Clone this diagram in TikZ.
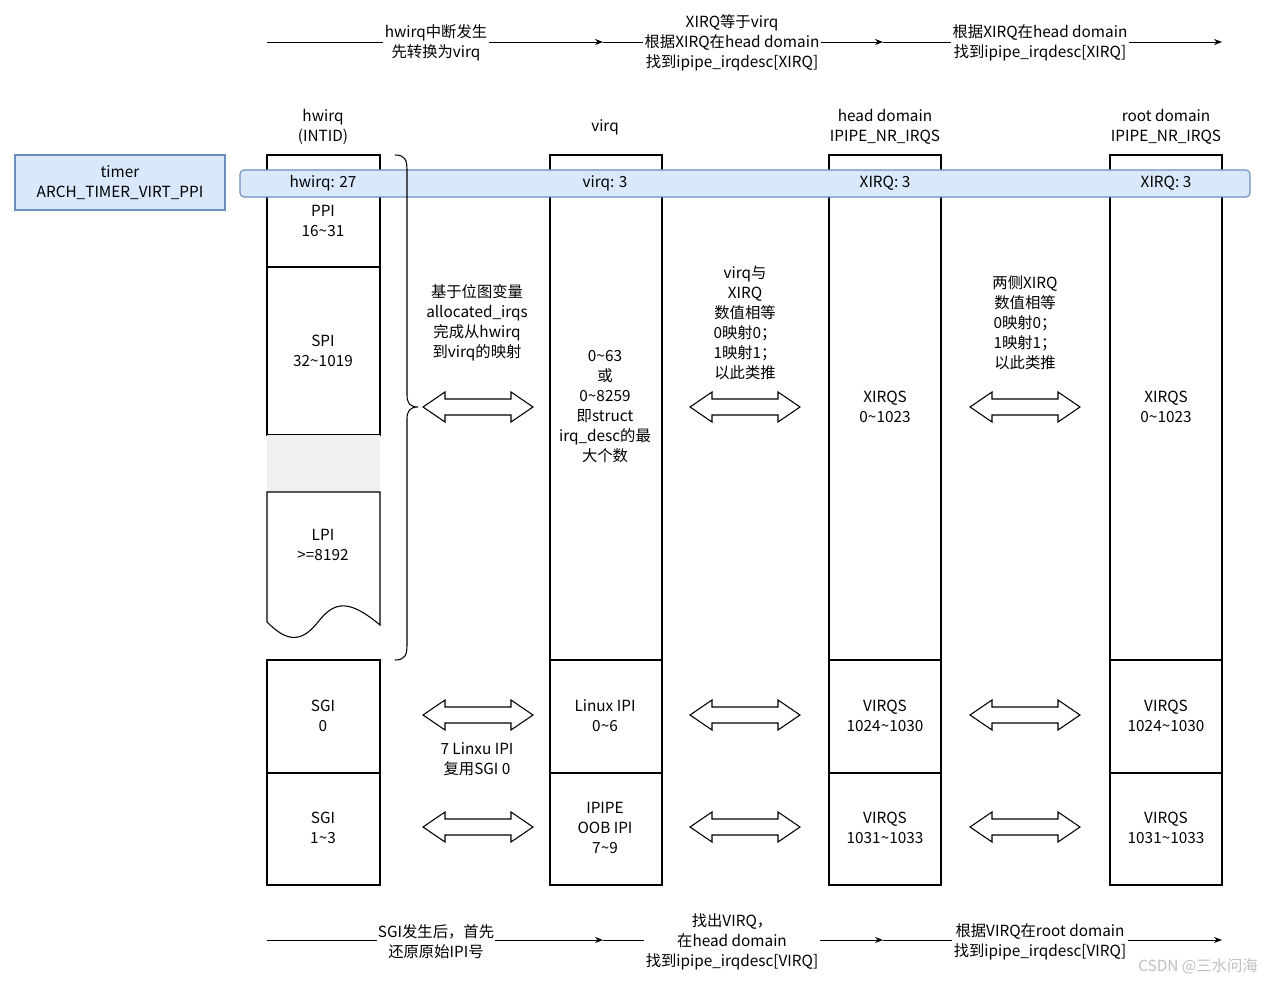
\documentclass[tikz,border=0pt]{standalone}
\usepackage{fontspec}
\setmainfont{Noto Sans CJK SC}
\usetikzlibrary{arrows.meta}
\definecolor{bfill}{HTML}{DAE8FC}
\definecolor{bdraw}{HTML}{6C8EBF}
\tikzset{
  box/.style={draw=black,fill=white,line width=0.8pt},
  lbl/.style={align=center,font=\fontsize{11.5}{15}\selectfont,inner sep=1pt},
  wl/.style={lbl,fill=white},
  flow/.style={-{Stealth[length=6pt]},line width=0.6pt},
  dblarrow/.style={draw=black,fill=white,line width=0.8pt},
  bluebox/.style={draw=bdraw,fill=bfill,line width=0.8pt}
}
\newcommand{\dblarr}[3]{% name, xc, yc
  \draw[dblarrow] ({#2-55},#3) -- ({#2-33},{#3-15}) -- ({#2-33},{#3-8}) -- ({#2+33},{#3-8}) -- ({#2+33},{#3-15}) -- ({#2+55},#3) -- ({#2+33},{#3+15}) -- ({#2+33},{#3+8}) -- ({#2-33},{#3+8}) -- ({#2-33},{#3+15}) -- cycle;
  \coordinate (#1) at (#2,#3);}
\begin{document}
\begin{tikzpicture}[x=0.75pt,y=-0.75pt]
\useasboundingbox (0,0) rectangle (1269,987);
% top flow
\coordinate (t0) at (267,42); \coordinate (t1) at (603,42); \coordinate (t2) at (883,42); \coordinate (t3) at (1222,42);
\draw[flow] (t0) -- (t1); \draw[flow] (t1) -- (t2); \draw[flow] (t2) -- (t3);
\node[wl] (tl1) at (436,43) {hwirq中断发生\\先转换为virq};
\node[wl] (tl2) at (732,43) {XIRQ等于virq\\根据XIRQ在head domain\\找到ipipe\_irqdesc[XIRQ]};
\node[wl] (tl3) at (1040,43) {根据XIRQ在head domain\\找到ipipe\_irqdesc[XIRQ]};
% bottom flow
\coordinate (b0) at (267,940); \coordinate (b1) at (603,940); \coordinate (b2) at (883,940); \coordinate (b3) at (1222,940);
\draw[flow] (b0) -- (b1); \draw[flow] (b1) -- (b2); \draw[flow] (b2) -- (b3);
\node[wl] (bl1) at (436,942) {SGI发生后，首先\\还原原始IPI号};
\node[wl] (bl2) at (732,942) {找出VIRQ，\\在head domain\\找到ipipe\_irqdesc[VIRQ]};
\node[wl] (bl3) at (1040,942) {根据VIRQ在root domain\\找到ipipe\_irqdesc[VIRQ]};
% headers
\node[lbl] (h1) at (323,127) {hwirq\\(INTID)};
\node[lbl] (h2) at (605,127) {virq};
\node[lbl] (h3) at (885,127) {head domain\\IPIPE\_NR\_IRQS};
\node[lbl] (h4) at (1166,127) {root domain\\IPIPE\_NR\_IRQS};
% column 1
\draw[box] (267,155) rectangle (380,267);
\node[lbl] (ppi) at (323,221) {PPI\\16\textasciitilde31};
\draw[box] (267,267) rectangle (380,435);
\node[lbl] (spi) at (323,351) {SPI\\32\textasciitilde1019};
\fill[black!6] (267,435) rectangle (380,492);
\draw[box] (267,492) -- (380,492) -- (380,625) .. controls (350,600) and (335,600) .. (318,622) .. controls (300,645) and (285,640) .. (267,622) -- cycle;
\node[lbl] (lpi) at (323,545) {LPI\\>=8192};
\draw[box] (267,660) rectangle (380,773);
\node[lbl] (sgi0) at (323,716) {SGI\\0};
\draw[box] (267,773) rectangle (380,885);
\node[lbl] (sgi1) at (323,828) {SGI\\1\textasciitilde3};
% column 2
\draw[box] (550,155) rectangle (662,660);
\node[lbl] (v1) at (605,407) {0\textasciitilde63\\或\\0\textasciitilde8259\\即struct\\irq\_desc的最\\大个数};
\draw[box] (550,660) rectangle (662,773);
\node[lbl] (v2) at (605,716) {Linux IPI\\0\textasciitilde6};
\draw[box] (550,773) rectangle (662,885);
\node[lbl] (v3) at (605,828) {IPIPE\\OOB IPI\\7\textasciitilde9};
% column 3 and 4
\foreach \x/\n in {829/c,1110/d}{
  \draw[box] (\x,155) rectangle ({\x+112},660);
  \node[lbl] (\n1) at ({\x+56},407) {XIRQS\\0\textasciitilde1023};
  \draw[box] (\x,660) rectangle ({\x+112},773);
  \node[lbl] (\n2) at ({\x+56},716) {VIRQS\\1024\textasciitilde1030};
  \draw[box] (\x,773) rectangle ({\x+112},885);
  \node[lbl] (\n3) at ({\x+56},828) {VIRQS\\1031\textasciitilde1033};
}
% timer and bar
\draw[bluebox] (15,155) rectangle (225,210);
\node[lbl] (timer) at (120,183) {timer\\ARCH\_TIMER\_VIRT\_PPI};
\draw[bluebox,rounded corners=3pt] (240,170) rectangle (1250,197);
\node[lbl] (bh) at (323,183) {hwirq: 27};
\node[lbl] (bv) at (605,183) {virq: 3};
\node[lbl] (bx) at (885,183) {XIRQ: 3};
\node[lbl] (by) at (1166,183) {XIRQ: 3};
% brace
\draw[line width=0.8pt] (395,155) .. controls (405,155) and (407,160) .. (407,170) -- (407,395) .. controls (407,403) and (410,407) .. (418,407) .. controls (410,407) and (407,411) .. (407,419) -- (407,645) .. controls (407,655) and (405,660) .. (395,660);
% double arrows
\foreach \xc/\n in {478/a,745/b,1025/c}{
  \dblarr{da\n1}{\xc}{407}
  \dblarr{da\n2}{\xc}{715}
  \dblarr{da\n3}{\xc}{827}
}
\node[lbl] (m1) at (477,323) {基于位图变量\\allocated\_irqs\\完成从hwirq\\到virq的映射};
\node[lbl] (m2) at (745,323) {virq与\\XIRQ\\数值相等\\0映射0；\\1映射1；\\以此类推};
\node[lbl] (m3) at (1025,323) {两侧XIRQ\\数值相等\\0映射0；\\1映射1；\\以此类推};
\node[lbl] (m4) at (477,759) {7 Linxu IPI\\复用SGI 0};
\node[lbl,text=black!25] (wm) at (1198,966) {CSDN @三水问海};
\end{tikzpicture}
\end{document}
